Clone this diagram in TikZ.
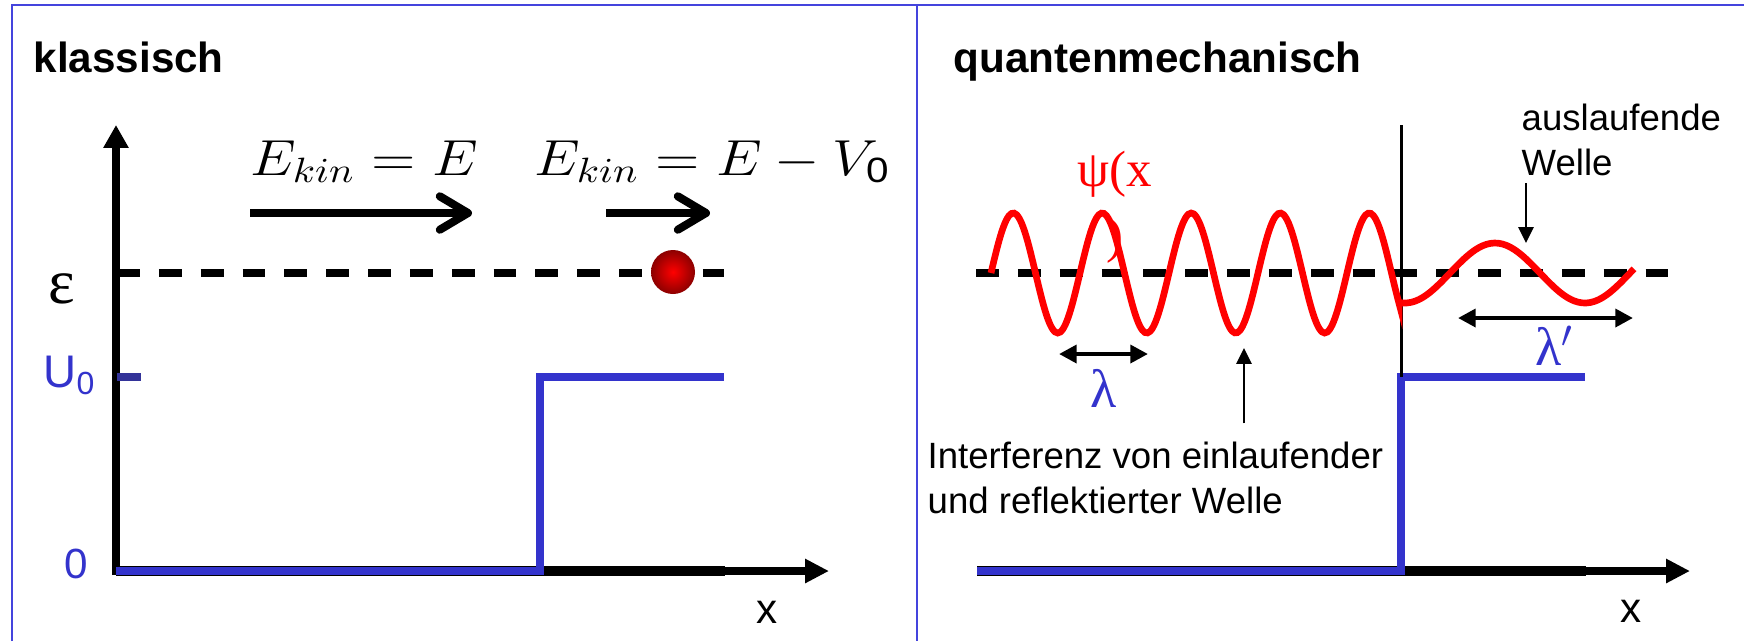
\documentclass[tikz,border=0pt]{standalone}
\usepackage{amsmath,graphicx,xcolor}
\usepackage[no-math]{fontspec}
\setmainfont{Liberation Sans}
\newfontfamily\greekfont{Liberation Serif}
\definecolor{qmblue}{RGB}{51,51,204}
\definecolor{qmnavy}{RGB}{51,51,153}
\definecolor{qmframe}{RGB}{68,68,221}
\definecolor{qmred}{RGB}{255,0,0}
\usetikzlibrary{arrows.meta}

\begin{document}
\begin{tikzpicture}[
  x=0.01cm, y=-0.01cm,
  every node/.style={inner sep=0pt},
  axisarrow/.style={line width=2.3pt,-{Triangle[length=6.8pt,width=6.5pt]}},
  potline/.style={qmblue,line width=2.3pt},
  levelline/.style={line width=2pt,dash pattern=on 6.5pt off 5.4pt},
  movearrow/.style={line width=2.3pt,-{Straight Barb[length=8pt,width=9.5pt,round]}},
  wave/.style={qmred,line width=1.9pt},
  lenarrow/.style={line width=1.4pt,{Triangle[length=5pt,width=5pt]}-{Triangle[length=5pt,width=5pt]}},
  pointer/.style={line width=0.6pt,-{Triangle[length=4.5pt,width=4.3pt]}},
  heading/.style={font=\fontsize{12}{14}\selectfont\bfseries,anchor=base west},
  axislabel/.style={font=\fontsize{12}{14}\selectfont},
  formula/.style={font=\fontsize{14.4}{16}\selectfont,anchor=base west},
  note/.style={font=\fontsize{10.4}{12.8}\selectfont,align=left,anchor=north west},
  greeklabel/.style={font=\greekfont\fontsize{15.4}{18}\selectfont,text=qmblue},
]
  \useasboundingbox (0,0) rectangle (1744,641);

  % Frame
  \draw[qmframe,line width=0.7pt] (12,641) -- (12,5) -- (1744,5);
  \draw[qmframe,line width=0.7pt] (917,5) -- (917,641);

  % ---------- klassisch ----------
  \node[heading] (titleC) at (33,72) {klassisch};

  % Axes
  \coordinate (oC) at (116,571);
  \coordinate (ytipC) at (116,125);
  \coordinate (xtipC) at (829,571);
  \coordinate (barC) at (725,571);
  \draw[axisarrow] (oC) -- (xtipC);
  \draw[line width=3.1pt] (oC) -- (barC);
  \draw[axisarrow,line width=2.2pt,-{Triangle[length=6.5pt,width=6.8pt]}] (116,575) -- (ytipC);

  % Potential step
  \draw[potline] (oC) -- (540,571) -- (540,377) -- (724,377);
  \draw[qmnavy,line width=2pt] (117,377) -- (141,377);

  % Energy level and particle
  \draw[levelline] (117,273) -- (724,273);
  \shade[inner color=red,outer color=red!55!black] (673,272) circle[radius=22];

  % Axis labels
  \node[font=\greekfont\fontsize{18}{20}\selectfont] (epsC) at (62,289) {ε};
  \node[axislabel,font=\fontsize{13}{15}\selectfont,text=qmblue,anchor=base west] (u0) at (43,387) {U\textsubscript{0}};
  \node[axislabel,text=qmblue,anchor=base] (zeroC) at (76,578) {0};
  \node[axislabel] (xC) at (767,612) {x};

  % Kinetic energy
  \node[formula] (ekinL) at (250,175) {\scalebox{1.15}[1]{$E_{kin} = E$}};
  \node[formula] (ekinR) at (534,175) {\scalebox{1.15}[1]{$E_{kin} = E - V_{\text{0}}$}};
  \coordinate (mvL1) at (250,213);
  \coordinate (mvL2) at (472,213);
  \coordinate (mvR1) at (606,213);
  \coordinate (mvR2) at (710,213);
  \draw[movearrow] (mvL1) -- (mvL2);
  \draw[movearrow] (mvR1) -- (mvR2);

  % ---------- quantenmechanisch ----------
  \node[heading] (titleQ) at (953,72) {quantenmechanisch};

  % Axes
  \coordinate (oQ) at (977,571);
  \coordinate (xtipQ) at (1690,571);
  \coordinate (barQ) at (1586,571);
  \draw[axisarrow] (oQ) -- (xtipQ);
  \draw[line width=3.1pt] (oQ) -- (barQ);
  \draw[potline] (oQ) -- (1401,571) -- (1401,377) -- (1585,377);
  \draw[line width=0.85pt] (1401,125) -- (1401,377);
  \node[axislabel] (xQ) at (1631,611) {x};

  % Energy level and wave
  \draw[levelline] (976,273) -- (1672,273);
  \draw[wave] plot[domain=991:1399,samples=160,smooth] (\x,{273-60*sin(4.0449*(\x-991))})
    -- plot[domain=1399:1634,samples=60,smooth] (\x,{273+30*cos(2*(\x-1405))});
  \node[font=\greekfont\fontsize{14.5}{19}\selectfont,text=qmred,align=center,anchor=north] (psi) at (1115,150) {ψ(x\\)};

  % Wavelengths
  \coordinate (lamL) at (1059,354);
  \coordinate (lamR) at (1148,354);
  \draw[lenarrow] (lamL) -- (lamR);
  \node[greeklabel] (lam) at (1104,388) {λ};
  \coordinate (lampL) at (1458,318);
  \coordinate (lampR) at (1633,318);
  \draw[lenarrow] (lampL) -- (lampR);
  \node[greeklabel] (lamp) at (1555,346) {λ$'$};

  % Notes
  \node[note] (outwave) at (1521,103) {auslaufende\\Welle};
  \coordinate (outtip) at (1526,243);
  \draw[pointer,shorten <=2pt] (outwave.south -| outtip) -- (outtip);
  \node[note] (interf) at (927,441) {Interferenz von einlaufender\\und reflektierter Welle};
  \coordinate (inttip) at (1244,348);
  \draw[pointer,shorten <=5pt] (interf.north -| inttip) -- (inttip);
\end{tikzpicture}
\end{document}
